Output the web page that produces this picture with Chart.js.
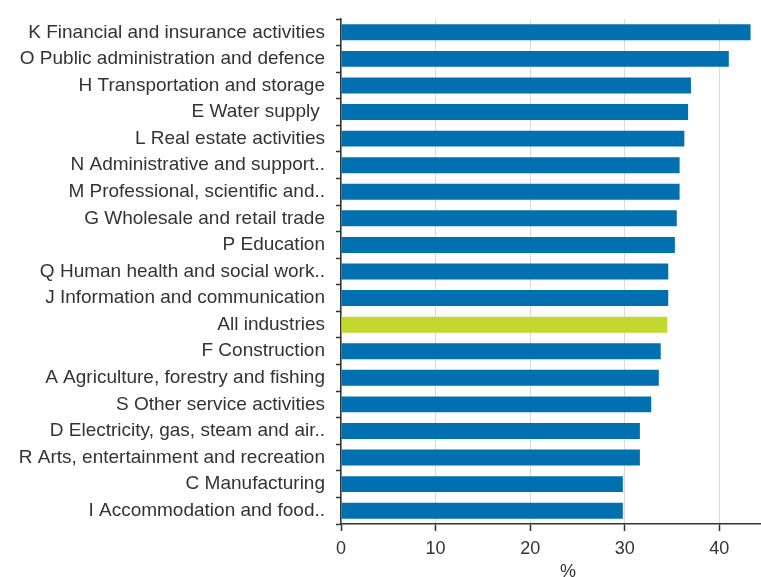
<!DOCTYPE html>
<html lang="en">
<head>
    <meta charset="UTF-8">
    <title>Share by industry</title>
    <script src="https://cdn.jsdelivr.net/npm/chart.js"></script>
</head>
<body style="margin: 0; background-color: white; overflow: hidden;">
    <div style="position: relative; width: 795px; height: 585px;">
        <canvas id="chart"></canvas>
    </div>

    <script>
        // Industries, top to bottom
        const industries = [
            'K Financial and insurance activities',
            'O Public administration and defence',
            'H Transportation and storage',
            'E Water supply ',
            'L Real estate activities',
            'N Administrative and support..',
            'M Professional, scientific and..',
            'G Wholesale and retail trade',
            'P Education',
            'Q Human health and social work..',
            'J Information and communication',
            'All industries',
            'F Construction',
            'A Agriculture, forestry and fishing',
            'S Other service activities',
            'D Electricity, gas, steam and air..',
            'R Arts, entertainment and recreation',
            'C Manufacturing',
            'I Accommodation and food..'
        ];
        const shares = [43.3, 41.0, 37.0, 36.7, 36.3, 35.8, 35.8, 35.5, 35.3, 34.6, 34.6, 34.5, 33.8, 33.6, 32.8, 31.6, 31.6, 29.8, 29.8];
        const xTicks = [0, 10, 20, 30, 40];

        const blue = '#0070b0';
        const green = '#c2d82f';
        const barColors = industries.map(n => n === 'All industries' ? green : blue);

        // the plot runs past the right edge of the window, like the original
        const ctx = document.getElementById('chart').getContext('2d');
        new Chart(ctx, {
            type: 'bar',
            data: {
                labels: industries,
                datasets: [{
                    data: shares,
                    backgroundColor: barColors,
                    borderWidth: 0,
                    categoryPercentage: 1,
                    barPercentage: 0.6
                }]
            },
            options: {
                indexAxis: 'y',
                responsive: true,
                maintainAspectRatio: false,
                animation: false,
                layout: { padding: { top: 19, right: 0, left: 0, bottom: 0 } },
                plugins: { legend: { display: false }, tooltip: { enabled: false } },
                scales: {
                    y: {
                        afterFit: s => { s.width = 341; s.paddingTop = 0; s.paddingBottom = 0; },
                        border: { color: '#333', width: 1.5 },
                        grid: { drawOnChartArea: false, tickLength: 5, tickColor: '#333', tickWidth: 1.5 },
                        ticks: { color: '#333', padding: 11, font: { family: 'Liberation Sans, Arial', size: 19 } }
                    },
                    x: {
                        min: 0,
                        max: 48,
                        afterFit: s => { s.height = 61; },
                        afterBuildTicks: s => { s.ticks = xTicks.map(v => ({ value: v })); },
                        border: { color: '#333', width: 1.5 },
                        grid: { color: '#d9d9d9', lineWidth: 1, tickLength: 7, tickColor: '#333', tickWidth: 1.5 },
                        ticks: { color: '#333', padding: 7, font: { family: 'Liberation Sans, Arial', size: 18 } },
                        title: { display: true, text: '%', color: '#333', padding: { top: 0, bottom: 2 }, font: { family: 'Liberation Sans, Arial', size: 18 } }
                    }
                }
            }
        });
    </script>
</body>
</html>
